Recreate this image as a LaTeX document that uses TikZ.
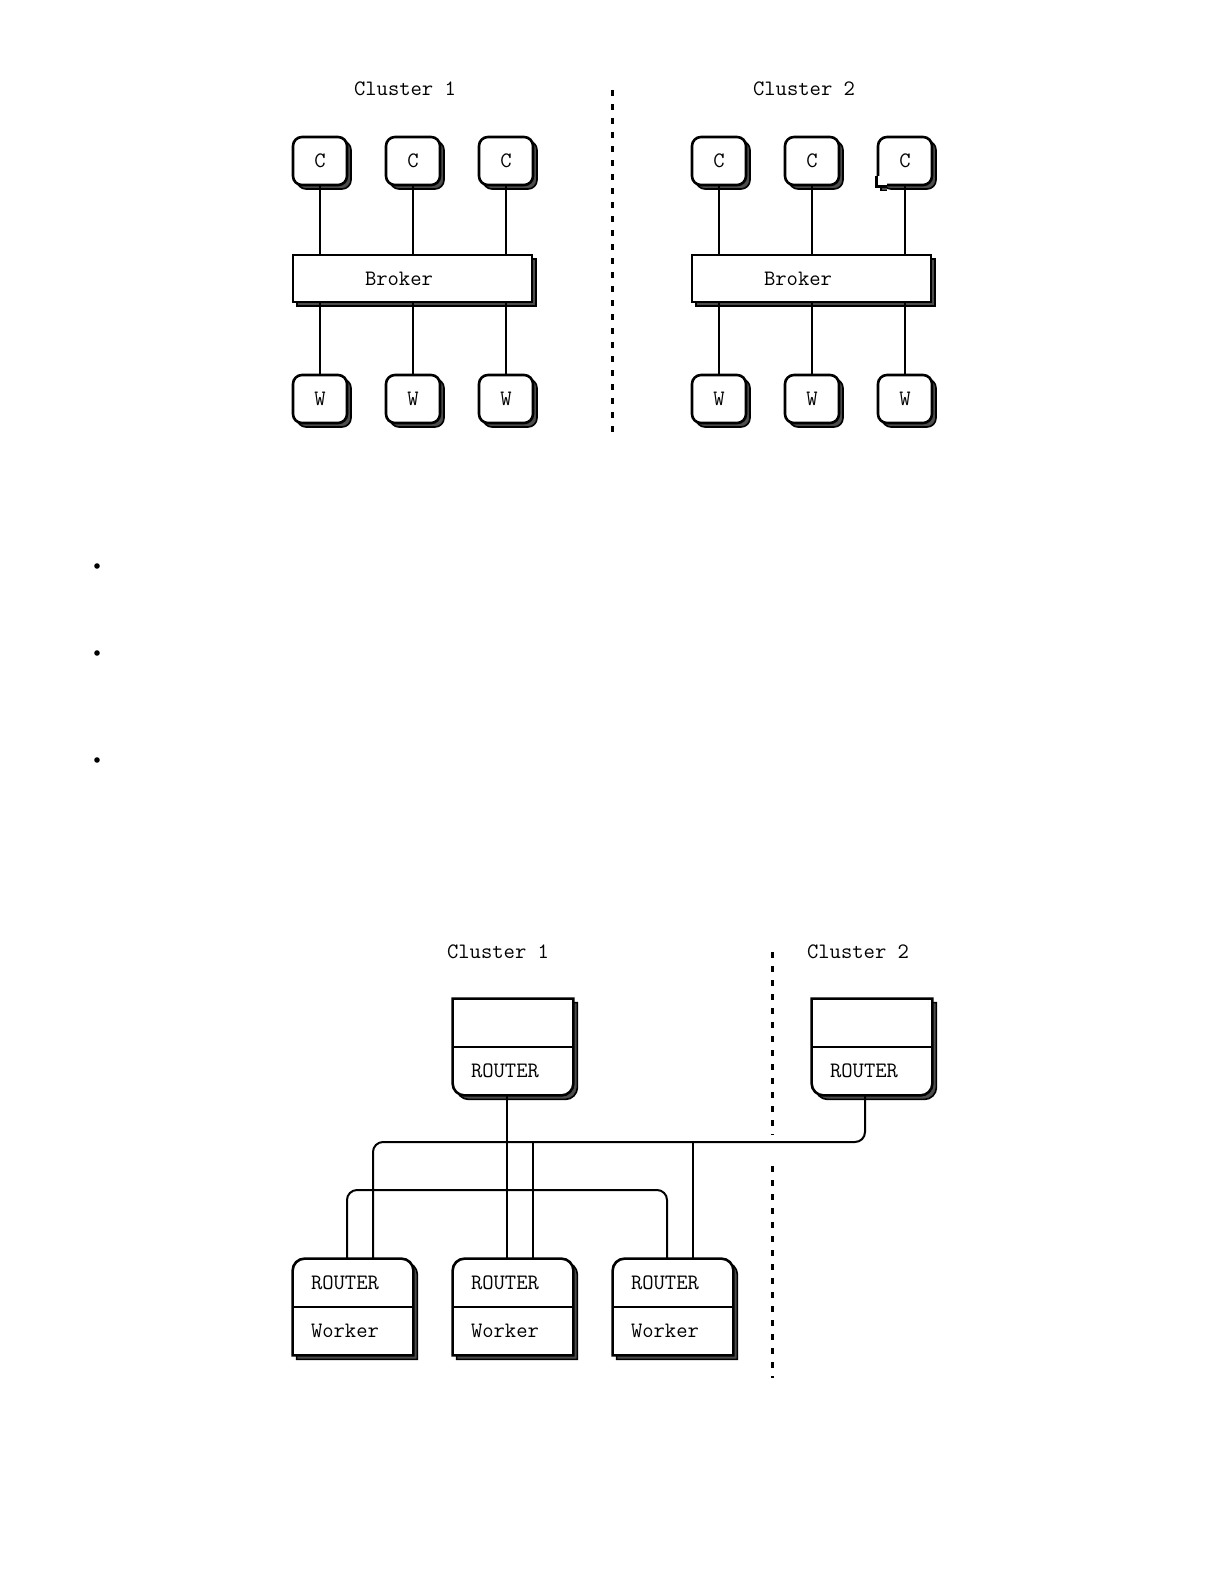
\documentclass[tikz,border=0pt]{standalone}
\usepackage{tikz}
\usetikzlibrary{shadows,backgrounds,positioning,calc}

\begin{document}
\begin{tikzpicture}[x=0.5pt, y=-0.5pt,
  lbl/.style={font=\ttfamily\fontsize{11}{13}\selectfont},
  dshadow/.style={drop shadow={shadow xshift=2pt, shadow yshift=-2pt, fill=black!70, draw=black,
                  line width=0.8pt, opacity=1}},
  rbox/.style={draw, line width=1.3pt, fill=white, rounded corners=4.5pt, minimum width=27pt,
               minimum height=24pt, inner sep=0pt, lbl, dshadow},
  bbox/.style={draw, line width=1.3pt, fill=white, minimum height=23.5pt, inner ysep=0pt,
               inner xsep=36pt, text width=47.5pt, align=left, lbl, dshadow},
  cell/.style={minimum height=24pt, inner ysep=0pt, inner xsep=9pt, text width=42pt, align=left, lbl},
  boxline/.style={draw, line width=1.3pt, fill=white, dshadow},
  link/.style={line width=1pt},
  sepline/.style={line width=1.5pt, dash pattern=on 3pt off 4pt}
]
  \useasboundingbox (0,0) rectangle (1224,1584);

  % brokered clusters
  \foreach \k/\dx in {1/0, 2/399}{
    \node[lbl] (cl\k) at (405+\dx, 89) {Cluster \k};
    \node[bbox] (br\k) at (412.5+\dx, 278.5) {Broker};
    \foreach \i/\cx in {1/320, 2/413, 3/506}{
      \node[rbox] (c\k\i) at (\cx+\dx, 161) {C};
      \node[rbox] (w\k\i) at (\cx+\dx, 399) {W};
      \draw[link] (c\k\i) -- (c\k\i |- br\k.north);
      \draw[link] (w\k\i) -- (w\k\i |- br\k.south);
    }
  }
  % square corner on the last client
  \fill[black!70] ([xshift=2pt,yshift=-2pt]c23.south west) rectangle ([xshift=5pt]c23.south west);
  \draw[line width=0.8pt] ([xshift=2pt]c23.south west) -- ([xshift=2pt,yshift=-2pt]c23.south west)
    -- ([xshift=5pt,yshift=-2pt]c23.south west);
  \fill[white] (c23.south west) rectangle ([xshift=5pt,yshift=5pt]c23.south west);
  \draw[line width=1.3pt] ([yshift=5pt]c23.south west) -- (c23.south west) -- ([xshift=5pt]c23.south west);

  \draw[sepline] (612,90) -- (612,433);

  \foreach \by in {566, 653, 760}
    \fill (97,\by) circle[radius=1.4pt];

  % router mesh
  \node[lbl] (lb1) at (498, 952) {Cluster 1};
  \node[lbl] (lb2) at (858, 952) {Cluster 2};

  \node[cell] (rAu) at (513, 1023) {};
  \node[cell] (rA) at (513, 1071) {ROUTER};
  \node[cell] (rBu) at (872, 1023) {};
  \node[cell] (rB) at (872, 1071) {ROUTER};

  \foreach \i/\cx in {1/353, 2/513, 3/673}{
    \node[cell] (wr\i) at (\cx, 1283) {ROUTER};
    \node[cell] (wk\i) at (\cx, 1331) {Worker};
    \coordinate (pa\i) at ([xshift=-3pt]wr\i.north);
    \coordinate (pb\i) at ([xshift=10pt]wr\i.north);
  }
  \coordinate (bus1) at (0,1142);
  \coordinate (bus2) at (0,1190);

  \begin{scope}[on background layer]
    \foreach \hubtop/\hub in {rAu/rA, rBu/rB}{
      \draw[boxline] (\hubtop.north west) -- (\hubtop.north east)
        -- ([yshift=6pt]\hub.south east) arc[start angle=0, end angle=-90, radius=6pt]
        -- ([xshift=6pt]\hub.south west) arc[start angle=270, end angle=180, radius=6pt] -- cycle;
      \draw[link] (\hub.north west) -- (\hub.north east);
    }
    \foreach \i in {1,2,3}{
      \draw[boxline] ([yshift=-6pt]wr\i.north west) arc[start angle=180, end angle=90, radius=6pt]
        -- ([xshift=-6pt]wr\i.north east) arc[start angle=90, end angle=0, radius=6pt]
        -- (wk\i.south east) -- (wk\i.south west) -- cycle;
      \draw[link] (wr\i.south west) -- (wr\i.south east);
    }
  \end{scope}

  \draw[link, rounded corners=5pt] ([xshift=-3.5pt]rB.south) |- (bus1 -| pb1) -- (pb1);
  \draw[link, rounded corners=5pt] (pa1) |- (bus2 -| pa3) -- (pa3);
  \draw[link] (rA.south -| pa2) -- (pa2);
  \draw[link] (bus1 -| pb2) -- (pb2);
  \draw[link] (bus1 -| pb3) -- (pb3);

  \draw[sepline] (772,952) -- (772,1135);
  \draw[sepline] (772,1166) -- (772,1378);
\end{tikzpicture}
\end{document}
